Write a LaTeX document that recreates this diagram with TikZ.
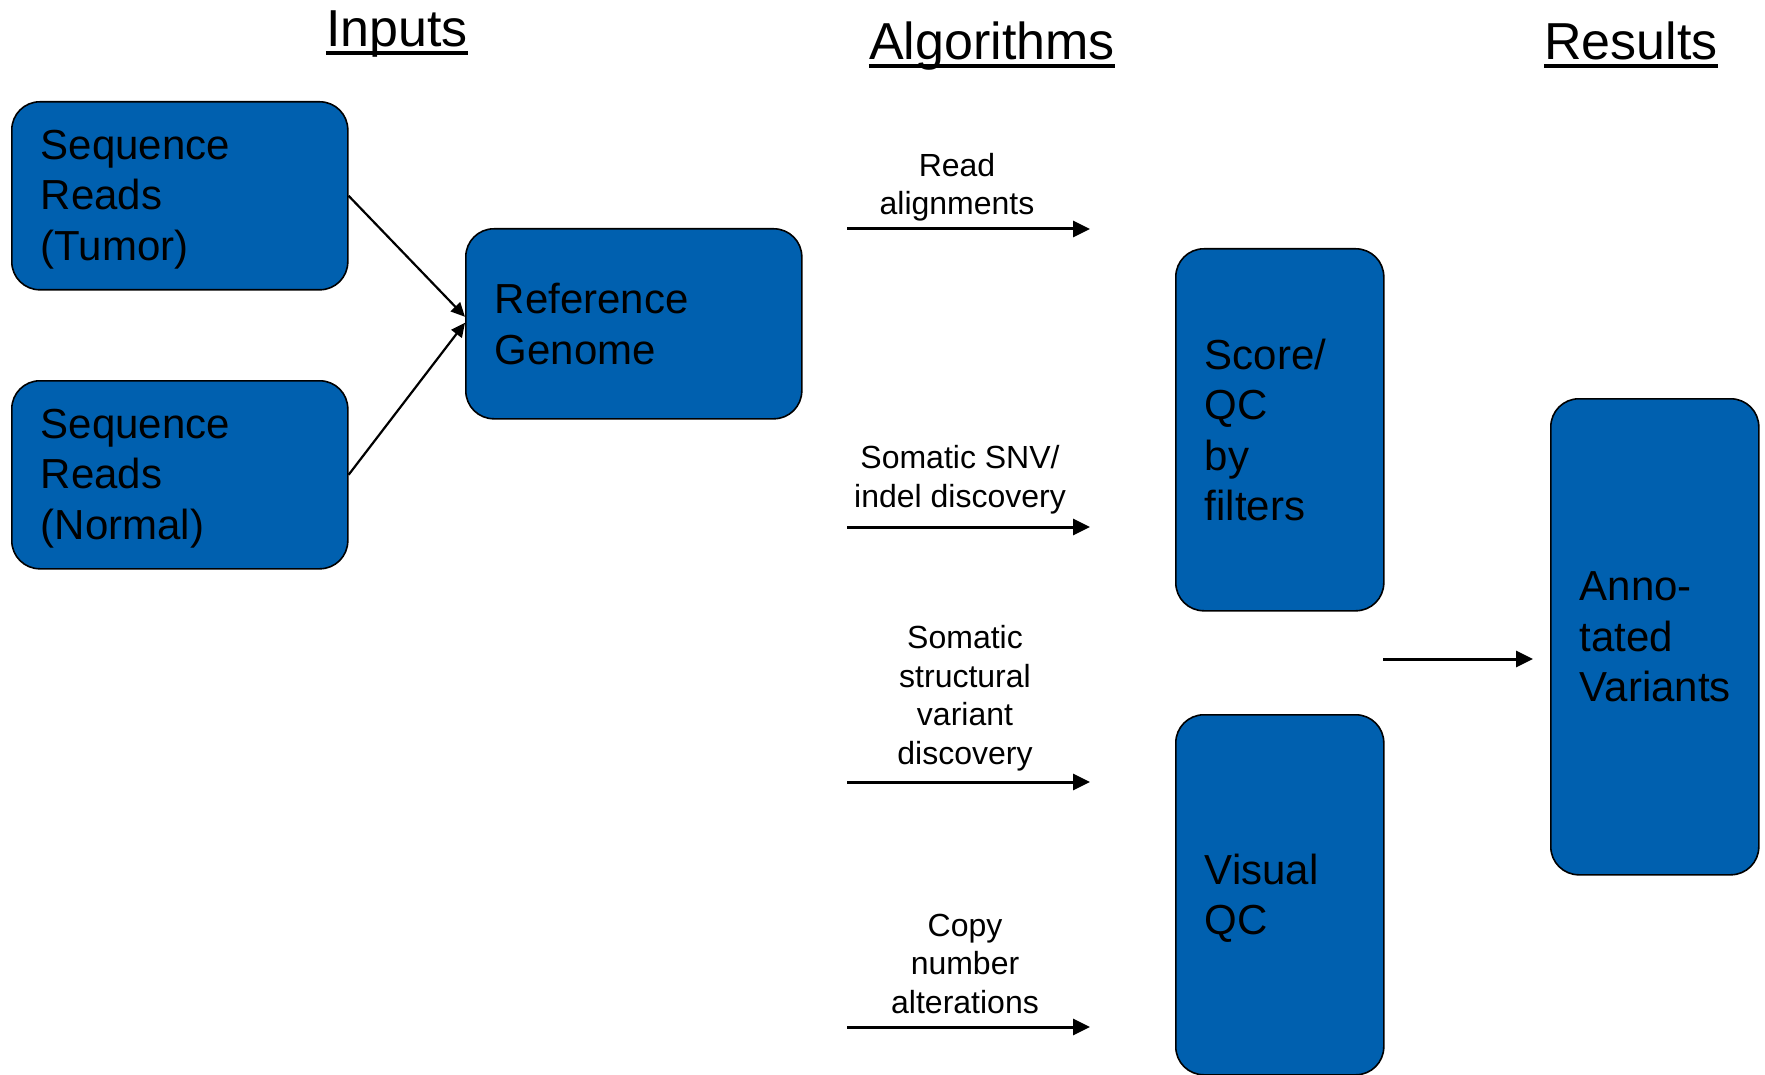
\documentclass[tikz,border=0pt]{standalone}
\usepackage{fontspec}
\setmainfont{Liberation Sans}
\usetikzlibrary{arrows.meta}
\definecolor{boxblue}{HTML}{0060AF}
\newcommand{\topgap}{\rule{0pt}{37pt}}
\begin{document}
\begin{tikzpicture}[x=1pt,y=-1pt,
  box/.style={draw=black, line width=1.6pt, fill=boxblue, rounded corners=28pt, align=left,
    inner xsep=29pt, inner ysep=0pt, font=\fontsize{42}{50.5}\selectfont, text=black, anchor=north west},
  heading/.style={font=\fontsize{52}{62}\selectfont, inner sep=0pt, anchor=base},
  lbl/.style={font=\fontsize{32}{38.5}\selectfont, align=center, inner sep=0pt, anchor=base},
  algarrow/.style={line width=3pt, -{Triangle[length=17pt,width=16pt]}},
  inarrow/.style={line width=2.2pt, -{Triangle[length=14pt,width=13pt]}},
  uline/.style={line width=3.3pt}
]
\useasboundingbox (0,0) rectangle (1765,1075);

% headings
\node[heading] (hin) at (397,47) {Inputs};
\node[heading] (halg) at (992,60) {Algorithms};
\node[heading] (hres) at (1631,60) {Results};
\draw[uline] ([yshift=-6pt]hin.base west) -- ([yshift=-6pt]hin.base east);
\draw[uline] ([yshift=-6pt]halg.base west) -- ([yshift=-6pt]halg.base east);
\draw[uline] ([yshift=-6pt]hres.base west) -- ([yshift=-6pt]hres.base east);

% boxes
\node[box, text width=278pt, minimum height=188pt] (tumor) at (11,101) {\topgap Sequence\\Reads\\(Tumor)};
\node[box, text width=278pt, minimum height=188pt] (normal) at (11,380) {\topgap Sequence\\Reads\\(Normal)};
\node[box, text width=278pt, minimum height=190pt] (ref) at (465,228) {Reference\\Genome};
\node[box, text width=150pt, minimum height=362pt] (score) at (1175,248) {Score/\\QC\\by\\filters};
\node[box, text width=150pt, minimum height=360pt] (visual) at (1175,714) {\topgap Visual\\QC};
\node[box, text width=150pt, minimum height=476pt] (ann) at (1550,398) {Anno-\\tated\\Variants};

% input arrows
\draw[inarrow] (tumor.east) -- ([yshift=7pt]ref.west);
\draw[inarrow] (normal.east) -- ([yshift=1pt]ref.west);

% algorithm arrows
\coordinate (a1s) at (847,229); \coordinate (a1e) at (1090,229);
\coordinate (a2s) at (847,527); \coordinate (a2e) at (1090,527);
\coordinate (a3s) at (847,782); \coordinate (a3e) at (1090,782);
\coordinate (a4s) at (847,1027); \coordinate (a4e) at (1090,1027);
\draw[algarrow] (a1s) -- (a1e);
\draw[algarrow] (a2s) -- (a2e);
\draw[algarrow] (a3s) -- (a3e);
\draw[algarrow] (a4s) -- (a4e);
\node[lbl] (l1) at (957,215) {Read\\alignments};
\node[lbl] (l2) at (960,507) {Somatic SNV/\\indel discovery};
\node[lbl] (l3) at (965,764) {Somatic\\structural\\variant\\discovery};
\node[lbl] (l4) at (965,1013) {Copy\\number\\alterations};

% output arrow
\coordinate (os) at (1383,659);
\coordinate (oe) at (1533,659);
\draw[algarrow] (os) -- (oe);
\end{tikzpicture}
\end{document}
